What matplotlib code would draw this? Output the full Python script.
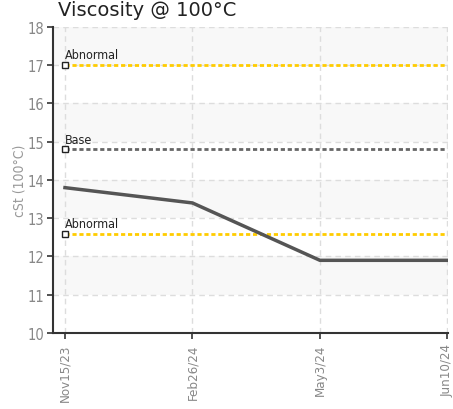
import matplotlib.pyplot as plt
import numpy as np

plt.rcParams['font.family'] = ['DejaVu Sans']
plt.rcParams['font.stretch'] = 'condensed'

# 数据
dates = ['Nov15/23', 'Feb26/24', 'May3/24', 'Jun10/24']
viscosity = [13.8, 13.4, 11.9, 11.9]
limit_names = ['Abnormal', 'Base', 'Abnormal']
limit_values = [17.0, 14.8, 12.6]
limit_colors = ['#ffcc00', '#666666', '#ffcc00']

fig = plt.figure(figsize=(4.53, 4.10), dpi=100)
ax = fig.add_axes([0.117, 0.1854, 0.872, 0.7463])

x = np.arange(len(dates))

# 交替背景带
for lo in range(11, 18, 2):
    ax.axhspan(lo, lo + 1, color='#f8f8f8', zorder=0, lw=0)

ax.grid(True, color='#dddddd', linestyle=(0, (4, 3)), linewidth=1, zorder=1)

# 限值线
for name, val, col in zip(limit_names, limit_values, limit_colors):
    ax.plot([x[0], x[-1]], [val, val], color=col, linestyle=(0, (1.5, 1)),
            linewidth=2, zorder=2)
    ax.plot([x[0]], [val], marker='s', markersize=4, markerfacecolor='white',
            markeredgecolor='#222222', markeredgewidth=1, zorder=4, clip_on=False)
    ax.text(x[0], val + 0.1, name, fontsize=9, color='#222222',
            ha='left', va='bottom', zorder=5)

ax.plot(x, viscosity, color='#555555', linewidth=2.5, zorder=3, solid_joinstyle='round')

ax.set_xlim(-0.094, 3.005)
ax.set_ylim(10, 18)
ax.set_yticks(range(10, 19))
ax.set_xticks(x)
ax.set_xticklabels(dates, rotation=90)

for s in ['top', 'right']:
    ax.spines[s].set_visible(False)
for s in ['left', 'bottom']:
    ax.spines[s].set_color('#333333')
    ax.spines[s].set_linewidth(1.5)
ax.tick_params(axis='both', colors='#333333', length=4, width=1.2,
               labelcolor='#888888', labelsize=10.5)
ax.tick_params(axis='y', pad=2)
ax.tick_params(axis='x', labelsize=9.5)

ax.set_ylabel('cSt (100°C)', color='#999999', fontsize=10, labelpad=1)

fig.text(0.128, 0.962, 'Viscosity @ 100°C', fontsize=14, color='#222222',
         family='DejaVu Sans', stretch='normal', va='baseline', ha='left')

fig.savefig('out.png', dpi=100)
